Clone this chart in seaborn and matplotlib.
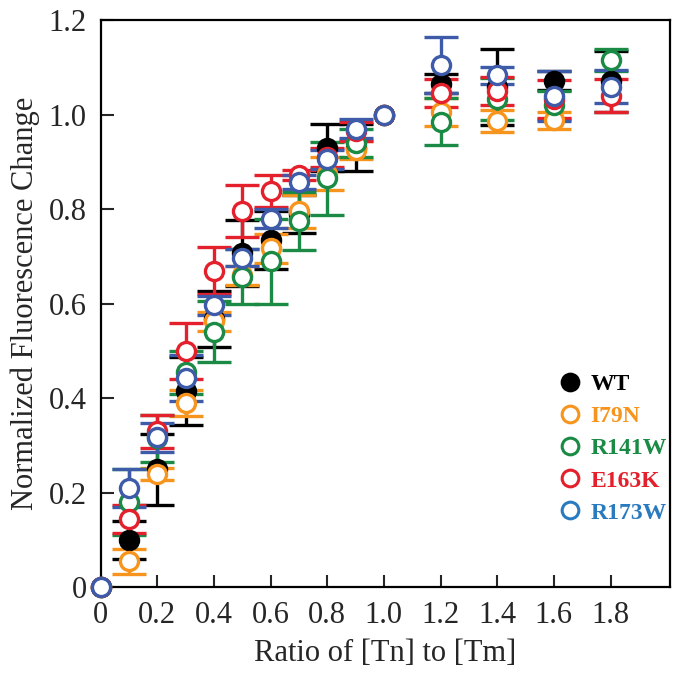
import matplotlib

matplotlib.use('Agg')

import numpy as np
import pandas as pd
import matplotlib.pyplot as plt
from matplotlib.lines import Line2D
import seaborn as sns

# ratio [Tn]/[Tm]
ratio = [0, 0.1, 0.2, 0.3, 0.4, 0.5, 0.6, 0.7, 0.8, 0.9, 1.0, 1.2, 1.4, 1.6, 1.8]

wt_mean = [0, 0.10, 0.25, 0.415, 0.568, 0.707, 0.735, 0.79, 0.93, 0.93, 1.0, 1.065, 1.058, 1.072, 1.07]
wt_err = [np.nan, 0.04, 0.075, 0.072, 0.059, 0.07, 0.062, 0.04, 0.05, 0.05, np.nan, 0.02, 0.08, 0.02, 0.065]

i79n_mean = [0, 0.055, 0.24, 0.39, 0.563, 0.66, 0.717, 0.795, 0.875, 0.925, 1.0, 1.005, 0.987, 0.988, np.nan]
i79n_err = [np.nan, 0.027, 0.012, 0.028, 0.02, 0.02, 0.03, 0.035, 0.035, 0.02, np.nan, 0.03, 0.023, 0.018, np.nan]

r141w_mean = [0, 0.18, 0.315, 0.455, 0.541, 0.657, 0.69, 0.775, 0.865, 0.94, 1.0, 0.985, 1.033, 1.02, 1.115]
r141w_err = [np.nan, 0.07, 0.05, 0.045, 0.065, 0.058, 0.09, 0.062, 0.078, 0.03, np.nan, 0.05, 0.045, 0.03, 0.023]

e163k_mean = [0, 0.145, 0.33, 0.5, 0.67, 0.795, 0.838, 0.872, 0.91, 0.965, 1.0, 1.045, 1.05, 1.033, 1.04]
e163k_err = [np.nan, 0.03, 0.035, 0.06, 0.05, 0.055, 0.034, 0.01, 0.02, 0.02, np.nan, 0.03, 0.03, 0.04, 0.035]

r173w_mean = [0, 0.21, 0.317, 0.443, 0.597, 0.697, 0.78, 0.857, 0.905, 0.97, 1.0, 1.105, 1.083, 1.04, 1.059]
r173w_err = [np.nan, 0.04, 0.03, 0.048, 0.02, 0.018, 0.02, 0.015, 0.02, 0.02, np.nan, 0.06, 0.018, 0.053, 0.035]

names = ['WT', 'I79N', 'R141W', 'E163K', 'R173W']
colors = ['#000000', '#F7941D', '#1A8A44', '#E3202B', '#3D5BA9']
legend_colors = ['#000000', '#F7941D', '#1A8A44', '#E3202B', '#2A7AC0']

series = {
    'WT': (wt_mean, wt_err),
    'I79N': (i79n_mean, i79n_err),
    'R141W': (r141w_mean, r141w_err),
    'E163K': (e163k_mean, e163k_err),
    'R173W': (r173w_mean, r173w_err),
}

sns.set_style('ticks')
plt.rcParams['font.family'] = ['Liberation Serif', 'DejaVu Serif']

fig = plt.figure(figsize=(6.77, 6.79), dpi=100)
ax = fig.add_axes([0.1485, 0.135, 0.8412, 0.8355])

for name, c in zip(names, colors):
    mean, err = series[name]
    df = pd.DataFrame({'ratio': ratio, 'value': mean, 'err': err})
    df = df.dropna(subset=['value'])
    bars = df.dropna(subset=['err'])
    face = c if name == 'WT' else 'white'
    ax.errorbar(bars['ratio'], bars['value'], yerr=bars['err'], fmt='none',
                ecolor=c, elinewidth=2.4, capsize=12, capthick=2.4, zorder=2)
    sns.scatterplot(data=df, x='ratio', y='value', ax=ax, marker='o', s=170,
                    facecolor=face, edgecolor=c, linewidth=2.4, zorder=3,
                    clip_on=False, legend=False)

ax.set_xlim(0, 2.01)
ax.set_ylim(0, 1.2)
ax.set_xticks([0, 0.2, 0.4, 0.6, 0.8, 1.0, 1.2, 1.4, 1.6, 1.8])
ax.set_xticklabels(['0', '0.2', '0.4', '0.6', '0.8', '1.0', '1.2', '1.4', '1.6', '1.8'])
ax.set_yticks([0, 0.2, 0.4, 0.6, 0.8, 1.0, 1.2])
ax.set_yticklabels(['0', '0.2', '0.4', '0.6', '0.8', '1.0', '1.2'])
ax.tick_params(direction='in', length=9, width=1.5, labelsize=22, pad=10,
               top=False, right=False)
for sp in ax.spines.values():
    sp.set_linewidth(1.6)
    sp.set_color('black')

ax.set_xlabel('Ratio of [Tn] to [Tm]', fontsize=22, labelpad=6)
ax.set_ylabel('Normalized Fluorescence Change', fontsize=22, labelpad=6)

handles = []
for name, c in zip(names, legend_colors):
    face = c if name == 'WT' else 'white'
    handles.append(Line2D([], [], linestyle='none', marker='o', markersize=12,
                          markerfacecolor=face, markeredgecolor=c, markeredgewidth=2.2))
leg = ax.legend(handles, names, loc='lower left', bbox_to_anchor=(0.775, 0.083),
                frameon=False, prop={'weight': 'bold', 'size': 17},
                handletextpad=0.35, labelspacing=0.45, handlelength=1.0,
                borderpad=0.2)
for txt, c in zip(leg.get_texts(), legend_colors):
    txt.set_color(c)

fig.savefig('out.png', dpi=100)
